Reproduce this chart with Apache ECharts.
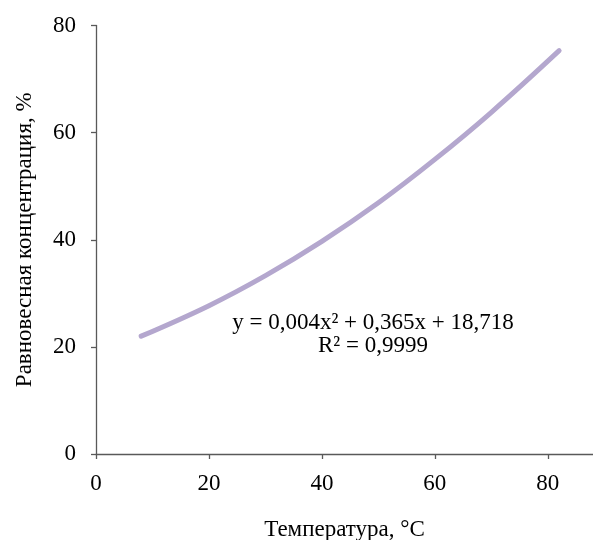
<!DOCTYPE html>
<html>
<head>
<meta charset="utf-8">
<script src="https://cdn.jsdelivr.net/npm/echarts@6/dist/echarts.min.js"></script>
<style>
html,body{margin:0;padding:0;background:#fff;}
#chart{width:593px;height:540px;}
</style>
</head>
<body>
<div id="chart"></div>
<script>
const temperature = [8, 20, 30, 40, 50, 60, 70, 82];
const concentration = [22.0, 27.7, 33.3, 39.7, 46.9, 55.0, 63.8, 75.3];
const xTicks = [0, 20, 40, 60, 80];
const yTicks = [0, 20, 40, 60, 80];
const xTitle = 'Температура, °C';
const yTitle = 'Равновесная концентрация, %';
const equationLine1 = 'y = 0,004x² + 0,365x + 18,718';
const equationLine2 = 'R² = 0,9999';

const font = 'Liberation Serif, Times New Roman, serif';
const axisColor = '#595959';

const chart = echarts.init(document.getElementById('chart'));
chart.setOption({
  animation: false,
  backgroundColor: '#ffffff',
  grid: {left: 96, top: 25.5, right: 0, bottom: 86, containLabel: false, outerBoundsMode: 'none'},
  xAxis: {
    type: 'value', min: 0, max: 88, interval: 20,
    name: xTitle, nameLocation: 'middle', nameGap: 64,
    nameTextStyle: {fontFamily: font, fontSize: 23, color: '#000'},
    axisLine: {show: true, lineStyle: {color: axisColor, width: 1.3}},
    axisTick: {show: true, length: 5, customValues: xTicks, lineStyle: {color: axisColor, width: 1.3}},
    axisLabel: {customValues: xTicks, fontFamily: font, fontSize: 23, color: '#000', margin: 18},
    splitLine: {show: false}
  },
  yAxis: {
    type: 'value', min: 0, max: 80, interval: 20,
    name: yTitle, nameLocation: 'middle', nameGap: 60, nameRotate: 90,
    nameTextStyle: {fontFamily: font, fontSize: 23, color: '#000'},
    axisLine: {show: true, lineStyle: {color: axisColor, width: 1.3}},
    axisTick: {show: true, length: 5, customValues: yTicks, lineStyle: {color: axisColor, width: 1.3}},
    axisLabel: {customValues: yTicks, fontFamily: font, fontSize: 23, color: '#000', margin: 20},
    splitLine: {show: false}
  },
  series: [{
    type: 'line',
    data: temperature.map((t, i) => [t, concentration[i]]),
    smooth: 0.4,
    symbol: 'none',
    lineStyle: {color: '#b4a7ce', width: 5, cap: 'round', join: 'round'}
  }],
  graphic: [
    {type: 'text', x: 373, y: 323, style: {text: equationLine1, font: '23px ' + font, fill: '#000', textAlign: 'center', textVerticalAlign: 'middle'}},
    {type: 'text', x: 373, y: 346, style: {text: equationLine2, font: '23px ' + font, fill: '#000', textAlign: 'center', textVerticalAlign: 'middle'}}
  ]
});
</script>
</body>
</html>
